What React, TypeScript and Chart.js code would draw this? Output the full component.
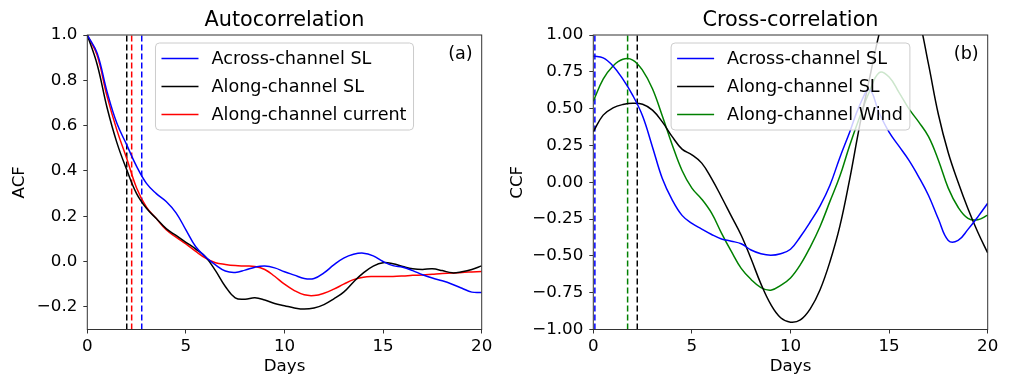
import React, { useEffect, useRef } from "react";
import { Chart, registerables } from "chart.js";

Chart.register(...registerables);

const FONT = '"DejaVu Sans", "Liberation Sans", sans-serif';

// lag in days
const lagDays = [
  0, 0.5, 1, 1.5, 2, 2.5, 3, 3.5, 4, 4.5, 5, 5.5, 6, 6.5, 7, 7.5, 8, 8.5, 9, 9.5, 10,
  10.5, 11, 11.5, 12, 12.5, 13, 13.5, 14, 14.5, 15, 15.5, 16, 16.5, 17, 17.5, 18, 18.5, 19, 19.5, 20,
];

// (a) Autocorrelation
const acfAcrossSL = [
  1.0, 0.92, 0.75, 0.61, 0.515, 0.42, 0.345, 0.3, 0.265, 0.215, 0.14, 0.065, 0.02, -0.015, -0.042, -0.048,
  -0.038, -0.025, -0.02, -0.028, -0.045, -0.06, -0.075, -0.075, -0.05, -0.015, 0.015, 0.032, 0.037, 0.025,
  0.0, -0.018, -0.025, -0.04, -0.058, -0.073, -0.085, -0.1, -0.118, -0.135, -0.137,
];
const acfAlongSL = [
  1.0, 0.87, 0.68, 0.525, 0.405, 0.3, 0.235, 0.19, 0.145, 0.115, 0.085, 0.055, 0.02, -0.04, -0.11, -0.16,
  -0.166, -0.16, -0.17, -0.185, -0.195, -0.205, -0.21, -0.205, -0.19, -0.165, -0.135, -0.09, -0.05, -0.02,
  -0.005, -0.01, -0.022, -0.032, -0.035, -0.032, -0.04, -0.05, -0.045, -0.035, -0.019,
];
const acfAlongCurrent = [
  1.0, 0.91, 0.73, 0.58, 0.455, 0.325, 0.24, 0.19, 0.14, 0.108, 0.078, 0.045, 0.015, -0.005, -0.013, -0.018,
  -0.02, -0.022, -0.035, -0.065, -0.1, -0.128, -0.147, -0.15, -0.14, -0.122, -0.1, -0.08, -0.069, -0.066,
  -0.066, -0.066, -0.064, -0.061, -0.059, -0.056, -0.053, -0.051, -0.048, -0.046, -0.044,
];
// decorrelation lags (dashed lines): across SL, along SL, along current
const acfLags = [2.76, 2.0, 2.25];

// (b) Cross-correlation
const ccfAcrossSL = [
  0.857, 0.845, 0.79, 0.7, 0.59, 0.45, 0.24, 0.025, -0.12, -0.225, -0.28, -0.318, -0.355, -0.385, -0.4, -0.418,
  -0.46, -0.485, -0.495, -0.485, -0.455, -0.37, -0.27, -0.16, -0.02, 0.167, 0.34, 0.52, 0.63, 0.47,
  0.34, 0.245, 0.15, 0.037, -0.09, -0.25, -0.395, -0.395, -0.32, -0.235, -0.143,
];
const ccfAlongSL = [
  0.343, 0.456, 0.505, 0.528, 0.537, 0.53, 0.49, 0.41, 0.31, 0.225, 0.186, 0.13, 0.025, -0.1, -0.23, -0.36,
  -0.52, -0.69, -0.83, -0.92, -0.95, -0.935, -0.86, -0.73, -0.54, -0.3, 0.02, 0.38, 0.7, 1.01,
  1.25, 1.36, 1.32, 1.12, 0.8, 0.46, 0.2, 0.0, -0.18, -0.34, -0.48,
];
const ccfAlongWind = [
  0.55, 0.7, 0.79, 0.835, 0.83, 0.76, 0.635, 0.45, 0.255, 0.08, -0.04, -0.115, -0.21, -0.345, -0.47, -0.585,
  -0.66, -0.715, -0.733, -0.7, -0.65, -0.56, -0.44, -0.3, -0.13, 0.04, 0.25, 0.44, 0.615, 0.745,
  0.715, 0.61, 0.5, 0.41, 0.31, 0.15, -0.04, -0.17, -0.245, -0.255, -0.223,
];
// peak lags (dashed lines): across SL, along SL, along wind
const ccfLags = [0.08, 2.23, 1.74];

const xTicks = [0, 5, 10, 15, 20];
const acfTicks = [-0.2, 0, 0.2, 0.4, 0.6, 0.8, 1.0];
const ccfTicks = [-1, -0.75, -0.5, -0.25, 0, 0.25, 0.5, 0.75, 1];

const acfNames = ["Across-channel SL", "Along-channel SL", "Along-channel current"];
const ccfNames = ["Across-channel SL", "Along-channel SL", "Along-channel Wind"];
const acfColors = ["#0000ff", "#000000", "#ff0000"];
const ccfColors = ["#0000ff", "#000000", "#008000"];

const fmt = (digits: number) => (v: number | string) => {
  const n = Number(v);
  const s = Math.abs(n).toFixed(digits);
  return n < -1e-9 ? "\u2212" + s : s;
};

const decorPlugin = {
  id: "decor",
  afterDraw(chart: any, _args: any, opts: any) {
    const { ctx, chartArea: a } = chart;
    const cx = (a.left + a.right) / 2;
    ctx.save();
    // legend
    ctx.font = `17.6px ${FONT}`;
    let maxW = 0;
    opts.names.forEach((n: string) => (maxW = Math.max(maxW, ctx.measureText(n).width)));
    const w = 6 + 37 + 13 + maxW + 7;
    const bx = cx - w / 2;
    const by = a.top + 8;
    const bh = 87;
    ctx.beginPath();
    ctx.roundRect(bx, by, w, bh, 4);
    ctx.fillStyle = "rgba(255,255,255,0.8)";
    ctx.fill();
    ctx.strokeStyle = "#cccccc";
    ctx.lineWidth = 1;
    ctx.stroke();
    opts.names.forEach((n: string, i: number) => {
      const y = by + 15.5 + i * 28;
      ctx.beginPath();
      ctx.moveTo(bx + 6, y);
      ctx.lineTo(bx + 43, y);
      ctx.strokeStyle = opts.colors[i];
      ctx.lineWidth = 1.5;
      ctx.stroke();
      ctx.fillStyle = "#000";
      ctx.textAlign = "left";
      ctx.textBaseline = "middle";
      ctx.fillText(n, bx + 56, y + 1);
    });
    // frame
    ctx.strokeStyle = "#333";
    ctx.lineWidth = 1;
    ctx.strokeRect(a.left, a.top, a.right - a.left, a.bottom - a.top);
    // panel label
    ctx.fillStyle = "#000";
    ctx.textAlign = "right";
    ctx.textBaseline = "middle";
    ctx.fillText(opts.panel, a.right - 9, a.top + 19);
    // title
    ctx.textAlign = "center";
    ctx.font = `20.8px ${FONT}`;
    ctx.fillText(opts.title, cx, 21);
    // axis labels
    ctx.font = `16.7px ${FONT}`;
    ctx.fillText("Days", cx, 367);
    ctx.translate(opts.yLabelX, (a.top + a.bottom) / 2);
    ctx.rotate(-Math.PI / 2);
    ctx.fillText(opts.yLabel, 0, 0);
    ctx.restore();
  },
};

type PanelProps = {
  title: string;
  yLabel: string;
  yLabelX: number;
  panel: string;
  names: string[];
  colors: string[];
  series: number[][];
  lags: number[];
  yMin: number;
  yMax: number;
  yTicks: number[];
  digits: number;
};

function Panel(p: PanelProps) {
  const ref = useRef<HTMLCanvasElement | null>(null);
  useEffect(() => {
    if (!ref.current) return;
    const lines = p.series.map((vals, i) => ({
      data: lagDays.map((d, j) => ({ x: d, y: vals[j] })),
      borderColor: p.colors[i],
      borderWidth: 1.5,
      pointRadius: 0,
      fill: false,
      tension: 0.4,
    }));
    const dashes = p.lags.map((lag, i) => ({
      data: [
        { x: lag, y: p.yMin },
        { x: lag, y: p.yMax },
      ],
      borderColor: p.colors[i],
      borderWidth: 1.5,
      borderDash: [6, 3],
      pointRadius: 0,
      fill: false,
      tension: 0,
    }));
    const chart = new Chart(ref.current, {
      type: "line",
      data: { datasets: [...lines, ...dashes] as any },
      plugins: [decorPlugin as any],
      options: {
        animation: false,
        responsive: false,
        events: [],
        layout: { padding: { top: 35, right: 24.3, bottom: 0, left: 0 } },
        plugins: {
          legend: { display: false },
          tooltip: { enabled: false },
          title: { display: false },
          decor: {
            title: p.title,
            yLabel: p.yLabel,
            yLabelX: p.yLabelX,
            panel: p.panel,
            names: p.names,
            colors: p.colors,
          },
        } as any,
        scales: {
          x: {
            type: "linear",
            min: 0,
            max: 20,
            afterBuildTicks: (s: any) => {
              s.ticks = xTicks.map((v) => ({ value: v }));
            },
            afterFit: (s: any) => {
              s.height = 47.5;
            },
            ticks: {
              color: "#000",
              font: { family: FONT, size: 16.7 },
              padding: 3,
              maxRotation: 0,
              autoSkip: false,
              callback: (v: any) => String(v),
            },
            grid: { display: true, drawOnChartArea: false, drawTicks: true, tickLength: 4, tickColor: "#333" },
            border: { display: false },
          },
          y: {
            type: "linear",
            min: p.yMin,
            max: p.yMax,
            afterBuildTicks: (s: any) => {
              s.ticks = p.yTicks.map((v) => ({ value: v }));
            },
            afterFit: (s: any) => {
              s.width = 87.3;
            },
            ticks: {
              color: "#000",
              font: { family: FONT, size: 16.7 },
              padding: 6,
              autoSkip: false,
              callback: fmt(p.digits),
            },
            grid: { display: true, drawOnChartArea: false, drawTicks: true, tickLength: 4, tickColor: "#333" },
            border: { display: false },
          },
        },
      },
    });
    return () => chart.destroy();
  }, []);
  return <canvas ref={ref} width={506} height={377} style={{ display: "block", width: 506, height: 377 }} />;
}

export default function App() {
  return (
    <div style={{ position: "fixed", left: 0, top: 0, width: 1012, height: 377, display: "flex", background: "#fff" }}>
      <Panel
        title="Autocorrelation"
        yLabel="ACF"
        yLabelX={20}
        panel="(a)"
        names={acfNames}
        colors={acfColors}
        series={[acfAcrossSL, acfAlongSL, acfAlongCurrent]}
        lags={acfLags}
        yMin={-0.3}
        yMax={1.0}
        yTicks={acfTicks}
        digits={1}
      />
      <Panel
        title="Cross-correlation"
        yLabel="CCF"
        yLabelX={12}
        panel="(b)"
        names={ccfNames}
        colors={ccfColors}
        series={[ccfAcrossSL, ccfAlongSL, ccfAlongWind]}
        lags={ccfLags}
        yMin={-1.0}
        yMax={1.0}
        yTicks={ccfTicks}
        digits={2}
      />
    </div>
  );
}
